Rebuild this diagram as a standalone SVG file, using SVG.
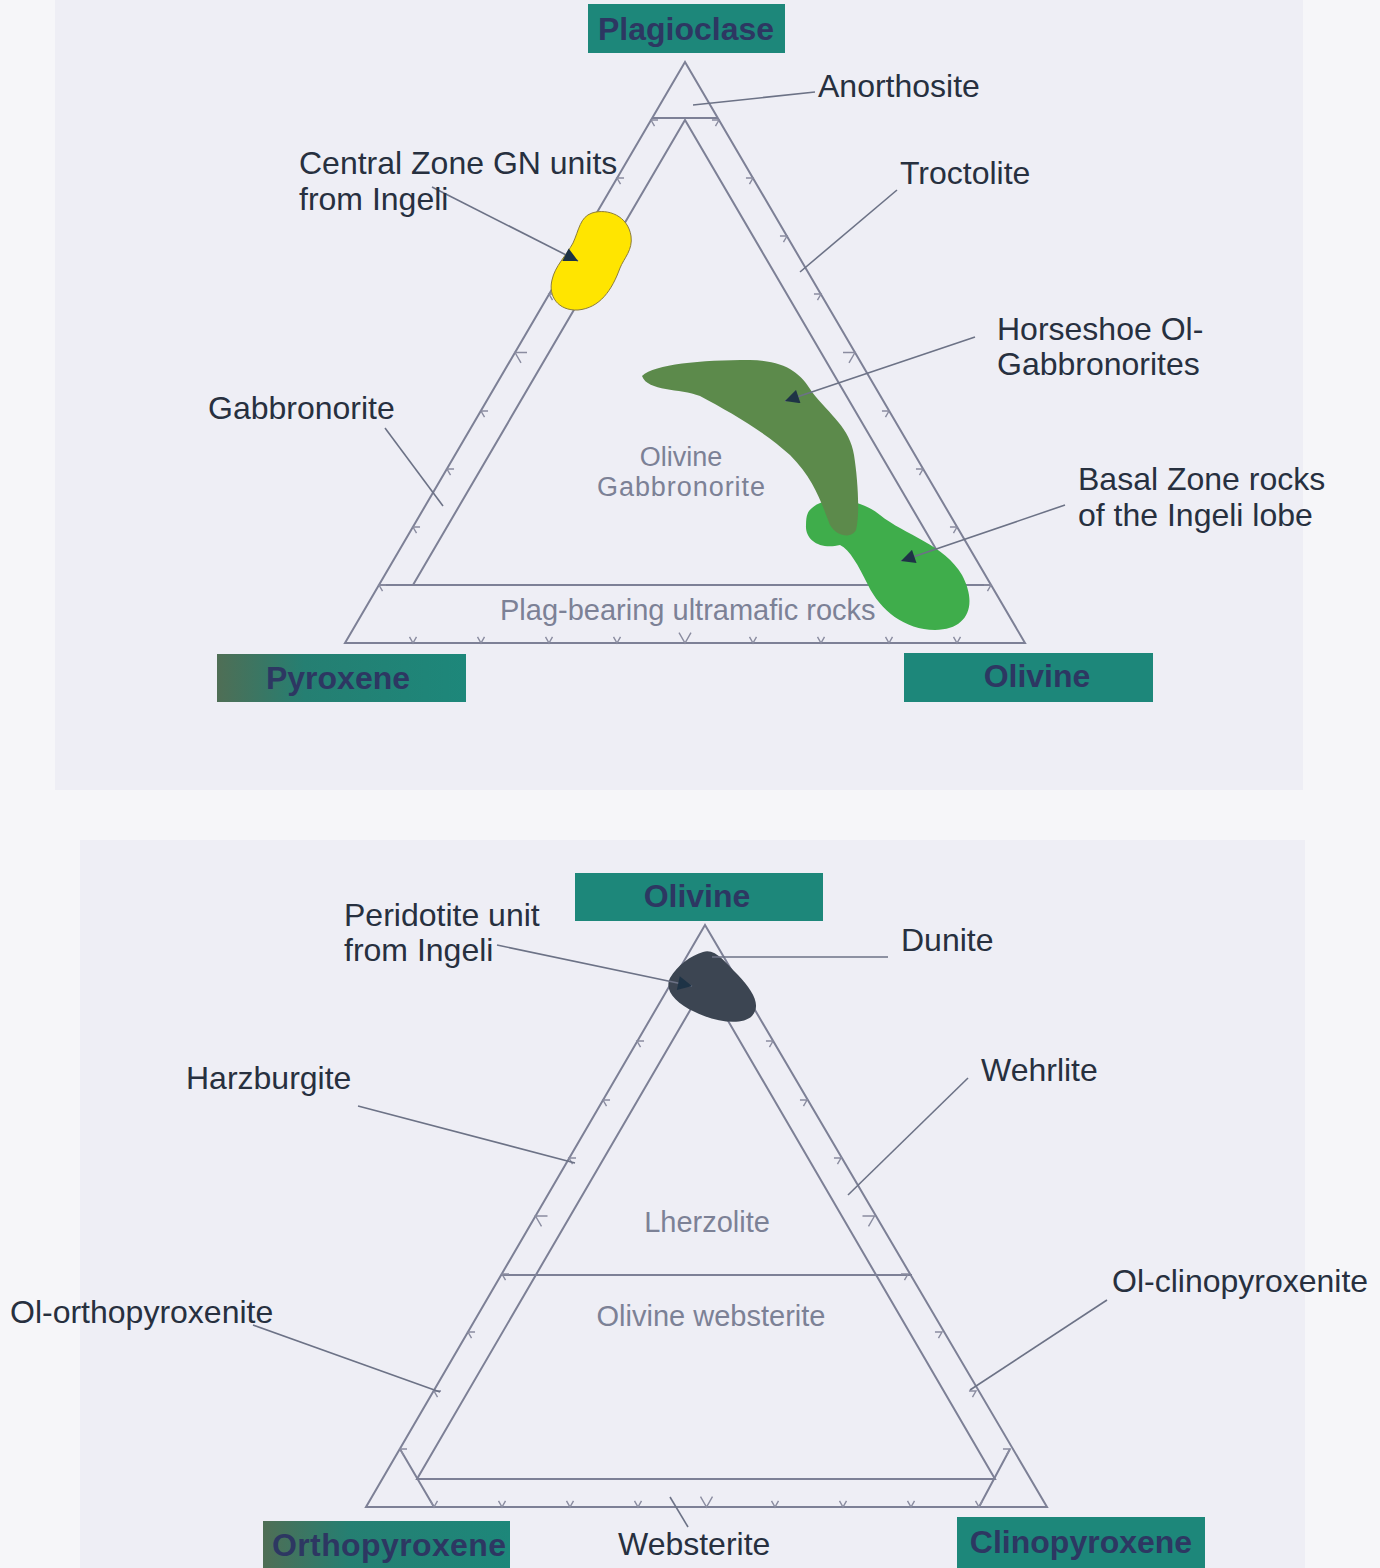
<svg xmlns="http://www.w3.org/2000/svg" xmlns:xlink="http://www.w3.org/1999/xlink" width="1380" height="1568" viewBox="0 0 1380 1568">
<style>
.ln{fill:none;stroke:#7d8096;stroke-width:2;stroke-linejoin:miter}
.tk{fill:none;stroke:#8a8ca0;stroke-width:1.4}
.ld{fill:none;stroke:#6c7286;stroke-width:1.6}
.lbl{font-family:"Liberation Sans",Arial,sans-serif;font-size:32px;fill:#27303f}
.gry{font-family:"Liberation Sans",Arial,sans-serif;font-size:29px;fill:#7c8196}
.box{fill:#1d877a}
.bt{font-family:"Liberation Sans",Arial,sans-serif;font-size:32px;font-weight:bold;fill:#2d3762}
</style>
<defs>
<marker id="ah" viewBox="0 0 10 10" refX="10" refY="5" markerWidth="17" markerHeight="14" markerUnits="userSpaceOnUse" orient="auto"><path d="M0 0 L10 5 L0 10 Z" fill="#1e3346"/></marker>
<path id="tk" d="M-3.5 -6.1 L0 0 L3.5 -6.1"/>
<path id="tkL" d="M-6 -10.4 L0 0 L6 -10.4"/>
<linearGradient id="gp" x1="0" y1="0" x2="1" y2="0"><stop offset="0" stop-color="#4f6e55"/><stop offset="0.35" stop-color="#257f72"/><stop offset="1" stop-color="#1d877a"/></linearGradient>
</defs>
<rect x="0" y="0" width="1380" height="1568" fill="#f6f6f9"/>
<rect x="55" y="0" width="1248" height="790" fill="#eeeef5"/>
<rect x="80" y="840" width="1225" height="728" fill="#eeeef5"/>

<g id="frame-top" class="ln">
<path d="M685 62 L345 643 L1025 643 Z"/>
<path d="M413 585 L685 120 L957 585"/>
<path d="M379 585 L991 585"/>
<path d="M652 118 L718 118"/>
</g>
<g id="ticks-top" class="tk">
<use href="#tk" transform="translate(651,120) rotate(120)"/>
<use href="#tk" transform="translate(617,178) rotate(120)"/>
<use href="#tk" transform="translate(583,236) rotate(120)"/>
<use href="#tk" transform="translate(549,294) rotate(120)"/>
<use href="#tkL" transform="translate(515,352.5) rotate(120)"/>
<use href="#tk" transform="translate(481,411) rotate(120)"/>
<use href="#tk" transform="translate(447,469) rotate(120)"/>
<use href="#tk" transform="translate(413,527) rotate(120)"/>
<use href="#tk" transform="translate(379,585) rotate(120)"/>
<use href="#tk" transform="translate(719,120) rotate(-120)"/>
<use href="#tk" transform="translate(753,178) rotate(-120)"/>
<use href="#tk" transform="translate(787,236) rotate(-120)"/>
<use href="#tk" transform="translate(821,294) rotate(-120)"/>
<use href="#tkL" transform="translate(855,352.5) rotate(-120)"/>
<use href="#tk" transform="translate(889,411) rotate(-120)"/>
<use href="#tk" transform="translate(923,469) rotate(-120)"/>
<use href="#tk" transform="translate(957,527) rotate(-120)"/>
<use href="#tk" transform="translate(991,585) rotate(-120)"/>
<use href="#tk" transform="translate(413,643)"/>
<use href="#tk" transform="translate(481,643)"/>
<use href="#tk" transform="translate(549,643)"/>
<use href="#tk" transform="translate(617,643)"/>
<use href="#tkL" transform="translate(685,643)"/>
<use href="#tk" transform="translate(753,643)"/>
<use href="#tk" transform="translate(821,643)"/>
<use href="#tk" transform="translate(889,643)"/>
<use href="#tk" transform="translate(957,643)"/>
</g>

<g id="frame-bottom" class="ln">
<path d="M705 925 L366 1507 L1047 1507 Z"/>
<path d="M417 1479 L706 983 L995 1479 Z"/>
<path d="M501 1275 L912 1275"/>
<path d="M400 1449 L434 1507 M1010 1449 L979 1507"/>
</g>
<g id="ticks-bottom" class="tk">
<use href="#tk" transform="translate(671,983) rotate(120)"/>
<use href="#tk" transform="translate(637,1041) rotate(120)"/>
<use href="#tk" transform="translate(603,1100) rotate(120)"/>
<use href="#tk" transform="translate(569,1158) rotate(120)"/>
<use href="#tkL" transform="translate(535.5,1216) rotate(120)"/>
<use href="#tk" transform="translate(502,1274) rotate(120)"/>
<use href="#tk" transform="translate(468,1332) rotate(120)"/>
<use href="#tk" transform="translate(434,1391) rotate(120)"/>
<use href="#tk" transform="translate(400,1449) rotate(120)"/>
<use href="#tk" transform="translate(739,983) rotate(-120)"/>
<use href="#tk" transform="translate(773,1041) rotate(-120)"/>
<use href="#tk" transform="translate(807,1100) rotate(-120)"/>
<use href="#tk" transform="translate(841,1158) rotate(-120)"/>
<use href="#tkL" transform="translate(874.5,1216) rotate(-120)"/>
<use href="#tk" transform="translate(908,1274) rotate(-120)"/>
<use href="#tk" transform="translate(942,1332) rotate(-120)"/>
<use href="#tk" transform="translate(976,1391) rotate(-120)"/>
<use href="#tk" transform="translate(1010,1449) rotate(-120)"/>
<use href="#tk" transform="translate(434,1507)"/>
<use href="#tk" transform="translate(502,1507)"/>
<use href="#tk" transform="translate(570,1507)"/>
<use href="#tk" transform="translate(638,1507)"/>
<use href="#tkL" transform="translate(706.5,1507)"/>
<use href="#tk" transform="translate(775,1507)"/>
<use href="#tk" transform="translate(843,1507)"/>
<use href="#tk" transform="translate(911,1507)"/>
<use href="#tk" transform="translate(979,1507)"/>
</g>

<g id="field-central-zone">
<path d="M592 213 C608 208 628 216 631 236 C633 250 624 258 620 268 C612 290 600 308 578 310 C558 311 548 296 552 280 C555 266 566 256 573 243 C579 230 580 217 592 213 Z" fill="#ffe500" stroke="#8c7d3c" stroke-width="1"/>
</g>
<g id="field-basal-zone">
<path d="M812 508 C825 495 860 498 880 515 C905 535 945 545 962 575 C978 605 968 630 935 630 C905 630 880 610 868 585 C858 565 850 550 840 545 C820 550 805 540 806 525 C806 515 808 511 812 508 Z" fill="#3fad4b"/>
</g>
<g id="field-horseshoe">
<path d="M642 376 C655 364 700 360 750 360 C785 361 800 372 812 392 C830 415 850 428 854 455 C858 480 860 515 856 530 C852 538 838 538 830 525 C822 505 815 480 790 455 C765 432 730 412 700 396 C680 388 648 392 642 376 Z" fill="#5c8a4b"/>
</g>
<g id="field-peridotite">
<path d="M703 952 C715 948 725 962 738 975 C752 990 762 1005 752 1016 C742 1026 715 1022 695 1012 C675 1003 664 990 670 978 C678 965 690 956 703 952 Z" fill="#3c4552"/>
</g>

<g id="connectors" class="ld">
<path d="M693 105 L815 92"/>
<path d="M432 187 L578 261" marker-end="url(#ah)"/>
<path d="M897 190 L800 272"/>
<path d="M975 337 L785 401" marker-end="url(#ah)"/>
<path d="M385 428 L443 506"/>
<path d="M1065 505 L901 561" marker-end="url(#ah)"/>
<path d="M497 945 L692 986" marker-end="url(#ah)"/>
<path d="M712 957 L888 957"/>
<path d="M358 1106 L575 1163"/>
<path d="M968 1078 L848 1195"/>
<path d="M253 1325 L440 1392"/>
<path d="M1107 1300 L970 1390"/>
<path d="M670 1497 L688 1527"/>
</g>

<g id="node-plagioclase"><rect class="box" x="588" y="4" width="197" height="49"/><text class="bt" x="686" y="40" text-anchor="middle">Plagioclase</text></g>
<g id="node-pyroxene"><rect x="217" y="654" width="249" height="48" fill="url(#gp)"/><text class="bt" x="338" y="689" text-anchor="middle">Pyroxene</text></g>
<g id="node-olivine-top"><rect class="box" x="904" y="653" width="249" height="49"/><text class="bt" x="1037" y="687" text-anchor="middle">Olivine</text></g>
<g id="node-olivine-bottom"><rect class="box" x="575" y="873" width="248" height="48"/><text class="bt" x="697" y="907" text-anchor="middle">Olivine</text></g>
<g id="node-orthopyroxene"><rect x="263" y="1521" width="247" height="47" fill="url(#gp)"/><text class="bt" x="272" y="1556" textLength="234">Orthopyroxene</text></g>
<g id="node-clinopyroxene"><rect class="box" x="957" y="1517" width="248" height="51"/><text class="bt" x="1081" y="1553" text-anchor="middle">Clinopyroxene</text></g>

<g id="labels-top">
<text class="lbl" x="818" y="97">Anorthosite</text>
<text class="lbl" x="299" y="174">Central Zone GN units</text>
<text class="lbl" x="299" y="210">from Ingeli</text>
<text class="lbl" x="900" y="184">Troctolite</text>
<text class="lbl" x="997" y="340">Horseshoe Ol-</text>
<text class="lbl" x="997" y="375">Gabbronorites</text>
<text class="lbl" x="208" y="419">Gabbronorite</text>
<text class="lbl" x="1078" y="490">Basal Zone rocks</text>
<text class="lbl" x="1078" y="526">of the Ingeli lobe</text>
<text class="gry" x="681" y="466" text-anchor="middle" style="font-size:27px">Olivine</text>
<text class="gry" x="681" y="496" text-anchor="middle" style="font-size:27px" textLength="168">Gabbronorite</text>
<text class="gry" x="500" y="620">Plag-bearing ultramafic rocks</text>
</g>
<g id="labels-bottom">
<text class="lbl" x="344" y="926">Peridotite unit</text>
<text class="lbl" x="344" y="961">from Ingeli</text>
<text class="lbl" x="901" y="951">Dunite</text>
<text class="lbl" x="186" y="1089">Harzburgite</text>
<text class="lbl" x="981" y="1081">Wehrlite</text>
<text class="gry" x="707" y="1232" text-anchor="middle">Lherzolite</text>
<text class="gry" x="711" y="1326" text-anchor="middle">Olivine websterite</text>
<text class="lbl" x="1112" y="1292">Ol-clinopyroxenite</text>
<text class="lbl" x="10" y="1323">Ol-orthopyroxenite</text>
<text class="lbl" x="618" y="1555">Websterite</text>
</g>
</svg>
